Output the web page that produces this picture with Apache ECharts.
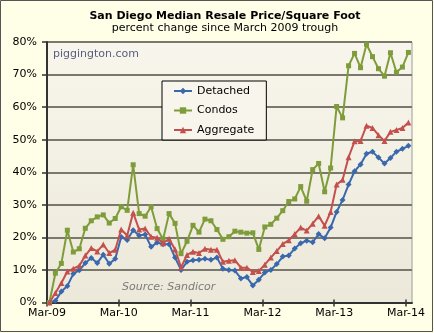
<!DOCTYPE html>
<html><head><meta charset="utf-8">
<script src="https://cdn.jsdelivr.net/npm/echarts@6/dist/echarts.min.js"></script>
<style>
html,body{margin:0;padding:0;background:#FFFEE6;}
#chart{width:434px;height:333px;}
</style></head><body><div id="chart"></div>
<script>
// months since March 2009 (0 = Mar-09 ... 60 = Mar-14)
const tickLabels = ['Mar-09','Mar-10','Mar-11','Mar-12','Mar-13','Mar-14'];
const tickMonths = [0,12,24,36,48,60];
const seriesNames = ['Detached','Condos','Aggregate'];

const detached = [0,0.5,3.4,5.1,8.8,9.9,12.1,13.7,12.1,14.7,11.9,13.4,
  20.1,19.2,22.2,20.6,20.9,17.1,18.4,17.9,17.9,13.8,10.0,12.5,
  13.0,13.1,13.4,13.1,13.8,10.4,10.0,9.8,7.4,7.8,5.2,7.0,
  9.2,10.0,11.8,14.1,14.4,16.6,18.2,19.0,18.5,21.0,19.7,23.0,
  27.8,31.5,36.2,40.3,42.4,45.7,46.3,44.5,42.7,44.4,46.3,47.2,48.1];
const condos = [0,9.0,12.0,22.2,15.5,16.5,22.8,25.1,26.3,26.9,24.4,25.8,
  29.4,28.3,42.3,27.3,26.5,29.4,22.7,19.4,27.3,24.3,15.0,18.8,
  23.7,21.6,25.6,25.1,22.4,19.4,20.2,21.9,21.6,21.3,21.4,16.3,
  23.2,24.0,25.9,28.2,31.0,31.8,35.6,31.1,40.8,42.7,34.0,41.3,
  60.2,56.7,72.7,76.5,72.1,79.3,75.5,71.8,69.5,76.7,70.7,72.3,76.8];
const aggregate = [0,2.9,6.0,9.5,10.4,11.3,14.4,16.7,15.7,17.8,15.2,16.2,
  22.4,20.6,27.6,22.4,22.7,20.2,19.9,18.2,19.6,16.3,10.8,14.6,
  15.6,15.2,16.5,16.2,16.2,12.5,12.8,13.0,10.7,10.7,9.4,9.7,
  11.6,13.8,15.8,18.0,19.1,21.0,23.0,22.1,24.2,26.5,23.6,27.8,
  36.2,37.7,44.6,49.5,49.6,54.3,53.6,51.4,49.6,52.4,53.0,53.6,55.3];

const FONT = 'DejaVu Sans';
const colors = ['#3a68ad','#7e9c3a','#c4504e'];
const symbols = ['diamond','rect','triangle'];
const symSizes = [6,5,6];
const pointOffset = 0.4; // data dated within the month
const toPoints = arr => arr.map((v,i)=>[i+pointOffset, v]);
const allData = [detached, condos, aggregate];

const chart = echarts.init(document.getElementById('chart'), null, {renderer:'canvas'});
chart.setOption({
  animation:false,
  backgroundColor:'#FFFEE6',
  grid:{left:47, right:22, top:42, bottom:30.5, show:true,
    borderColor:'#9a9a9a', borderWidth:1,
    backgroundColor:{type:'linear',x:0,y:0,x2:0,y2:1,colorStops:[{offset:0,color:'#F8F6EC'},{offset:1,color:'#ECE9DA'}]}},
  xAxis:[{
    type:'value', min:0, max:61,
    axisLine:{show:true, lineStyle:{color:'#333', width:2}},
    axisTick:{show:true, length:4, lineStyle:{color:'#333', width:1.5}, customValues:tickMonths},
    axisLabel:{customValues:tickMonths, margin:5, fontFamily:FONT, fontSize:11, color:'#000',
      formatter:v=>tickLabels[tickMonths.indexOf(Math.round(v))] || ''},
    splitLine:{show:false}
  },{
    type:'value', min:0, max:61, position:'bottom',
    axisLine:{show:false},
    axisTick:{show:true, inside:true, length:3, lineStyle:{color:'#333', width:1.5}, customValues:tickMonths},
    axisLabel:{show:false}, splitLine:{show:false}
  }],
  yAxis:{
    type:'value', min:0, max:80, interval:10,
    axisLine:{show:true, lineStyle:{color:'#333', width:2}},
    axisTick:{show:true, length:5, lineStyle:{color:'#333', width:1.5}},
    axisLabel:{formatter:'{value}%', margin:10, fontFamily:FONT, fontSize:11, color:'#000'},
    splitLine:{show:true, lineStyle:{color:'#7a776c', width:2}}
  },
  legend:{
    orient:'vertical', left:162, top:81, padding:[4.5,12,4.5,11],
    itemWidth:18, itemHeight:8, itemGap:8.5,
    backgroundColor:'#F8F6EC', borderColor:'#000', borderWidth:1,
    textStyle:{fontFamily:FONT, fontSize:11, color:'#000'},
    data:seriesNames
  },
  graphic:[
    {type:'rect', silent:true, z:100, shape:{x:0.5,y:0.5,width:432,height:331},
      style:{fill:'none', stroke:'#555', lineWidth:1}},
    {type:'text', x:225, y:16, style:{text:'San Diego Median Resale Price/Square Foot',
      font:'bold 11px "DejaVu Sans"', fill:'#000', align:'center', verticalAlign:'middle', textAlign:'center', textVerticalAlign:'middle'}},
    {type:'text', x:225, y:28, style:{text:'percent change since March 2009 trough',
      font:'11px "DejaVu Sans"', fill:'#000', align:'center', verticalAlign:'middle', textAlign:'center', textVerticalAlign:'middle'}},
    {type:'text', x:53, y:54, z:1, style:{text:'piggington.com',
      font:'11px "DejaVu Sans"', fill:'#5a5e7e', align:'left', verticalAlign:'middle', textAlign:'left', textVerticalAlign:'middle'}},
    {type:'text', x:122, y:287, z:1, style:{text:'Source: Sandicor',
      font:'italic 11px "DejaVu Sans"', fill:'#7a7a7a', align:'left', verticalAlign:'middle', textAlign:'left', textVerticalAlign:'middle'}}
  ],
  series: seriesNames.map((name,k)=>({
    name, type:'line', data:toPoints(allData[k]),
    symbol:symbols[k], symbolSize:symSizes[k],
    lineStyle:{color:colors[k], width:2},
    itemStyle:{color:colors[k]},
    z:2+k
  }))
});
</script></body></html>
